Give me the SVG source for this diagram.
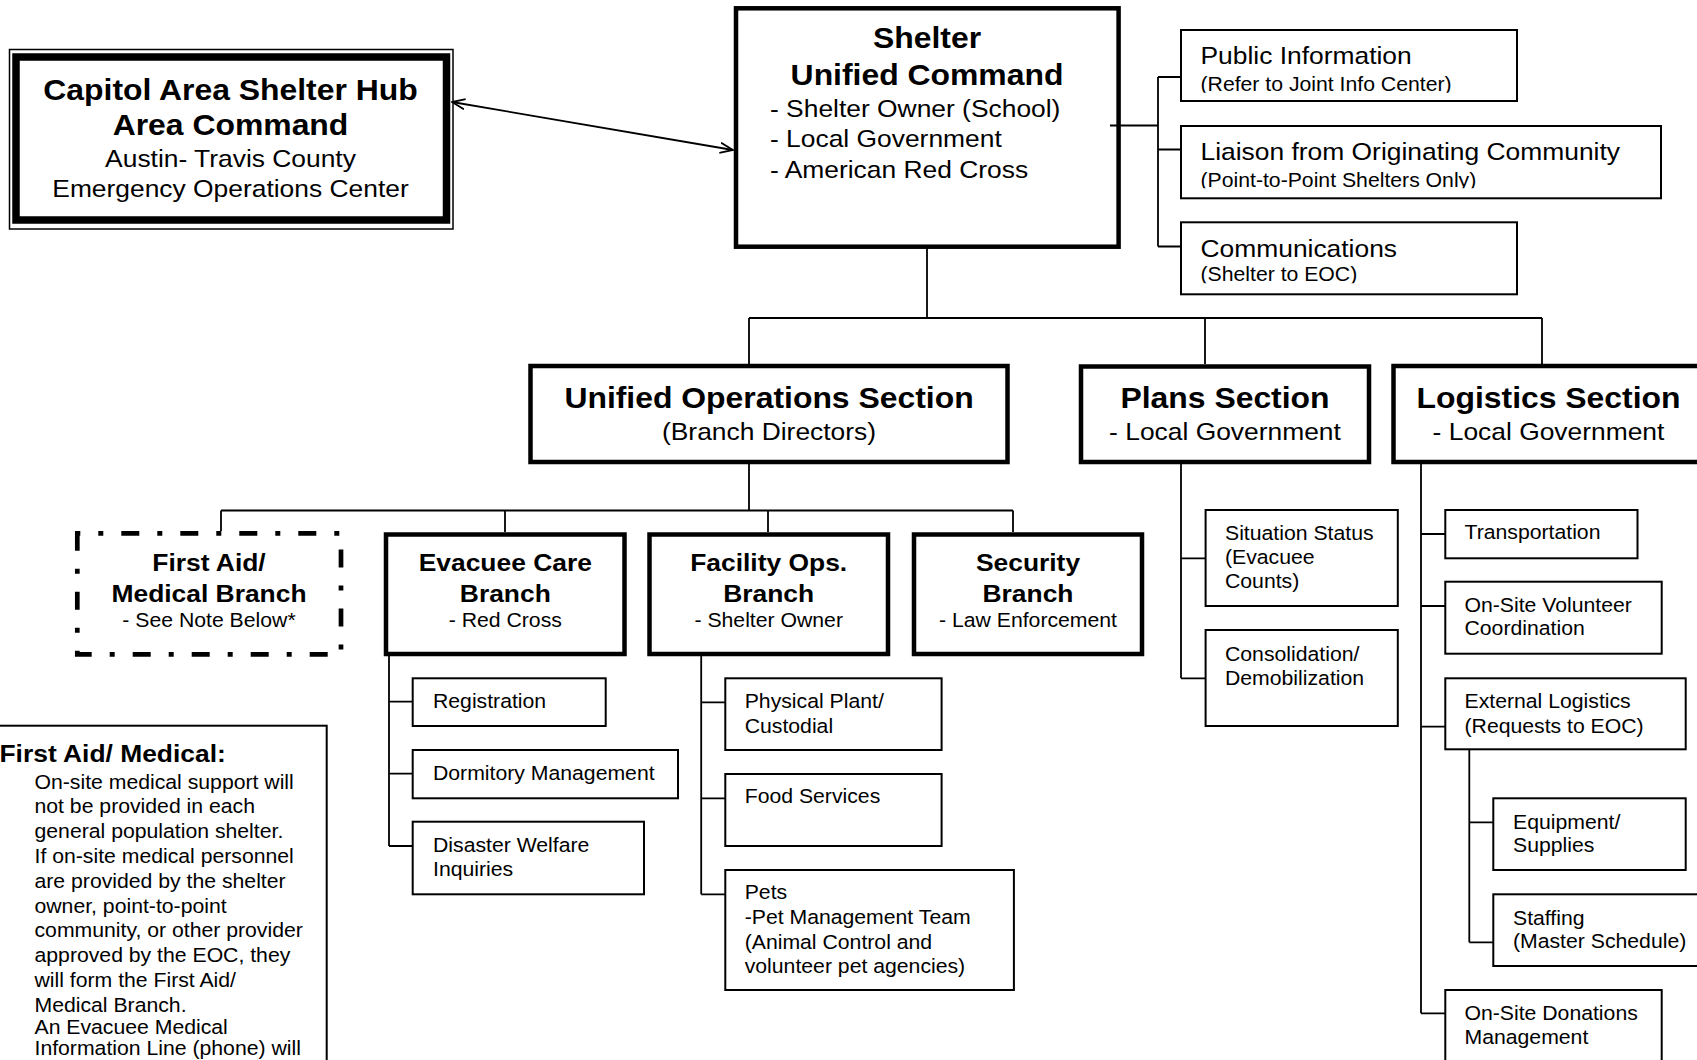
<svg xmlns="http://www.w3.org/2000/svg" width="1697" height="1060" viewBox="0 0 1697 1060">
<style>
.t{font-family:"Liberation Sans",Arial,Helvetica,sans-serif;fill:#000}
.b1{font-weight:bold;font-size:29px}
.r1{font-size:24px}
.b2{font-weight:bold;font-size:24px}
.r2{font-size:19.3px}
.thick{fill:#fff;stroke:#000;stroke-width:4.5}
.thin{fill:#fff;stroke:#000;stroke-width:2}
.ln{fill:none;stroke:#000;stroke-width:1.8}
.dash{fill:#fff;stroke:#000;stroke-width:4.7;stroke-dasharray:18 18 5 18;stroke-dashoffset:15}
</style>
<defs>
<marker id="arr" viewBox="0 0 14 12" refX="13" refY="6" markerWidth="14" markerHeight="12" markerUnits="userSpaceOnUse" orient="auto-start-reverse">
<path d="M0,0.8 L13,6 L0,11.2" fill="none" stroke="#000" stroke-width="1.8"/>
</marker>
<clipPath id="cpPub"><rect x="1182" y="31" width="334" height="61.7"/></clipPath>
<clipPath id="cpLia"><rect x="1182" y="127" width="478" height="61.3"/></clipPath>
<clipPath id="cpCom"><rect x="1182" y="223" width="334" height="60.3"/></clipPath>
</defs>
<rect width="1697" height="1060" fill="#fff"/>

<g id="capitol">
<rect x="9.5" y="49.5" width="443.5" height="179.5" fill="#fff" stroke="#000" stroke-width="1.5"/>
<rect x="16" y="57" width="430.5" height="163" fill="none" stroke="#000" stroke-width="7.5"/>
<text class="t b1" text-anchor="middle" transform="translate(230.5 0) scale(1.1 1)"><tspan x="0" y="100">Capitol Area Shelter Hub</tspan><tspan x="0" y="135">Area Command</tspan></text>
<text class="t r1" text-anchor="middle" transform="translate(230.5 0) scale(1.1 1)"><tspan x="0" y="167.5">Austin- Travis County</tspan><tspan x="0" y="197.5">Emergency Operations Center</tspan></text>
</g>

<g id="shelter">
<rect class="thick" x="736" y="8.3" width="382.6" height="238.4"/>
<text class="t b1" text-anchor="middle" transform="translate(927 0) scale(1.1 1)"><tspan x="0" y="48">Shelter</tspan><tspan x="0" y="84.7">Unified Command</tspan></text>
<text class="t r1" transform="translate(770 0) scale(1.1 1)"><tspan x="0" y="117.2">- Shelter Owner (School)</tspan><tspan x="0" y="147.4">- Local Government</tspan><tspan x="0" y="177.6">- American Red Cross</tspan></text>
</g>

<g id="public-info">
<rect class="thin" x="1181" y="30" width="336" height="71"/>
<g clip-path="url(#cpPub)">
<text class="t r1" transform="translate(1200.5 0) scale(1.1 1)"><tspan x="0" y="64">Public Information</tspan></text>
<text class="t r2" transform="translate(1200.5 0) scale(1.1 1)"><tspan x="0" y="90.8">(Refer to Joint Info Center)</tspan></text>
</g>
</g>

<g id="liaison">
<rect class="thin" x="1181" y="126" width="480" height="72.3"/>
<g clip-path="url(#cpLia)">
<text class="t r1" transform="translate(1200.5 0) scale(1.1 1)"><tspan x="0" y="160.5">Liaison from Originating Community</tspan></text>
<text class="t r2" transform="translate(1200.5 0) scale(1.1 1)"><tspan x="0" y="187.2">(Point-to-Point Shelters Only)</tspan></text>
</g>
</g>

<g id="communications">
<rect class="thin" x="1181" y="222.3" width="336" height="72"/>
<g clip-path="url(#cpCom)">
<text class="t r1" transform="translate(1200.5 0) scale(1.1 1)"><tspan x="0" y="257">Communications</tspan></text>
<text class="t r2" transform="translate(1200.5 0) scale(1.1 1)"><tspan x="0" y="280.8">(Shelter to EOC)</tspan></text>
</g>
</g>

<g id="unified-operations">
<rect class="thick" x="530.5" y="366" width="477" height="96"/>
<text class="t b1" text-anchor="middle" transform="translate(769 0) scale(1.1 1)"><tspan x="0" y="408">Unified Operations Section</tspan></text>
<text class="t r1" text-anchor="middle" transform="translate(769 0) scale(1.1 1)"><tspan x="0" y="439.7">(Branch Directors)</tspan></text>
</g>

<g id="plans">
<rect class="thick" x="1081" y="366.5" width="288" height="95.5"/>
<text class="t b1" text-anchor="middle" transform="translate(1225 0) scale(1.1 1)"><tspan x="0" y="408">Plans Section</tspan></text>
<text class="t r1" text-anchor="middle" transform="translate(1225 0) scale(1.1 1)"><tspan x="0" y="439.7">- Local Government</tspan></text>
</g>

<g id="logistics">
<rect class="thick" x="1393.5" y="366" width="320" height="96"/>
<text class="t b1" text-anchor="middle" transform="translate(1548.5 0) scale(1.1 1)"><tspan x="0" y="408">Logistics Section</tspan></text>
<text class="t r1" text-anchor="middle" transform="translate(1548.5 0) scale(1.1 1)"><tspan x="0" y="439.7">- Local Government</tspan></text>
</g>

<g id="first-aid-branch">
<rect class="dash" x="77.3" y="533.3" width="263.7" height="121"/>
<text class="t b2" text-anchor="middle" transform="translate(209 0) scale(1.1 1)"><tspan x="0" y="571">First Aid/</tspan><tspan x="0" y="602.5">Medical Branch</tspan></text>
<text class="t r2" text-anchor="middle" transform="translate(209 0) scale(1.1 1)"><tspan x="0" y="627.3">- See Note Below*</tspan></text>
</g>

<g id="evacuee-care-branch">
<rect class="thick" x="386" y="534.5" width="238.5" height="119.5"/>
<text class="t b2" text-anchor="middle" transform="translate(505.3 0) scale(1.1 1)"><tspan x="0" y="571.5">Evacuee Care</tspan><tspan x="0" y="602.5">Branch</tspan></text>
<text class="t r2" text-anchor="middle" transform="translate(505.3 0) scale(1.1 1)"><tspan x="0" y="627.5">- Red Cross</tspan></text>
</g>

<g id="facility-ops-branch">
<rect class="thick" x="649.5" y="534.5" width="238.5" height="119.5"/>
<text class="t b2" text-anchor="middle" transform="translate(768.7 0) scale(1.1 1)"><tspan x="0" y="571.5">Facility Ops.</tspan><tspan x="0" y="602.5">Branch</tspan></text>
<text class="t r2" text-anchor="middle" transform="translate(768.7 0) scale(1.1 1)"><tspan x="0" y="627.5">- Shelter Owner</tspan></text>
</g>

<g id="security-branch">
<rect class="thick" x="914" y="534.5" width="228" height="119.5"/>
<text class="t b2" text-anchor="middle" transform="translate(1028 0) scale(1.1 1)"><tspan x="0" y="571.5">Security</tspan><tspan x="0" y="602.5">Branch</tspan></text>
<text class="t r2" text-anchor="middle" transform="translate(1028 0) scale(1.1 1)"><tspan x="0" y="627.5">- Law Enforcement</tspan></text>
</g>

<g id="registration">
<rect class="thin" x="412.7" y="678.3" width="193" height="47.7"/>
<text class="t r2" transform="translate(433 0) scale(1.1 1)"><tspan x="0" y="707.7">Registration</tspan></text>
</g>
<g id="dormitory">
<rect class="thin" x="412.7" y="750" width="265.3" height="48.3"/>
<text class="t r2" transform="translate(433 0) scale(1.1 1)"><tspan x="0" y="780">Dormitory Management</tspan></text>
</g>
<g id="disaster-welfare">
<rect class="thin" x="412.7" y="821.7" width="231.3" height="72.6"/>
<text class="t r2" transform="translate(433 0) scale(1.1 1)"><tspan x="0" y="851.7">Disaster Welfare</tspan><tspan x="0" y="875.7">Inquiries</tspan></text>
</g>

<g id="physical-plant">
<rect class="thin" x="725.3" y="678.3" width="216.3" height="71.7"/>
<text class="t r2" transform="translate(744.7 0) scale(1.1 1)"><tspan x="0" y="707.7">Physical Plant/</tspan><tspan x="0" y="732.7">Custodial</tspan></text>
</g>
<g id="food-services">
<rect class="thin" x="725.3" y="774" width="216.3" height="72"/>
<text class="t r2" transform="translate(744.7 0) scale(1.1 1)"><tspan x="0" y="803.3">Food Services</tspan></text>
</g>
<g id="pets">
<rect class="thin" x="725.3" y="870" width="288.6" height="120"/>
<text class="t r2" transform="translate(744.7 0) scale(1.1 1)"><tspan x="0" y="899.3">Pets</tspan><tspan x="0" y="924.3">-Pet Management Team</tspan><tspan x="0" y="949">(Animal Control and</tspan><tspan x="0" y="973.3">volunteer pet agencies)</tspan></text>
</g>

<g id="situation-status">
<rect class="thin" x="1205.6" y="510" width="192.2" height="96"/>
<text class="t r2" transform="translate(1225 0) scale(1.1 1)"><tspan x="0" y="540">Situation Status</tspan><tspan x="0" y="564.3">(Evacuee</tspan><tspan x="0" y="588.3">Counts)</tspan></text>
</g>
<g id="consolidation">
<rect class="thin" x="1205.6" y="630" width="192.2" height="96"/>
<text class="t r2" transform="translate(1225 0) scale(1.1 1)"><tspan x="0" y="661">Consolidation/</tspan><tspan x="0" y="685">Demobilization</tspan></text>
</g>

<g id="transportation">
<rect class="thin" x="1445.3" y="510" width="192.2" height="48.3"/>
<text class="t r2" transform="translate(1464.5 0) scale(1.1 1)"><tspan x="0" y="539.5">Transportation</tspan></text>
</g>
<g id="volunteer-coordination">
<rect class="thin" x="1445.3" y="581.7" width="216.4" height="72"/>
<text class="t r2" transform="translate(1464.5 0) scale(1.1 1)"><tspan x="0" y="611.7">On-Site Volunteer</tspan><tspan x="0" y="635.5">Coordination</tspan></text>
</g>
<g id="external-logistics">
<rect class="thin" x="1445.3" y="678.3" width="240.4" height="71"/>
<text class="t r2" transform="translate(1464.5 0) scale(1.1 1)"><tspan x="0" y="708.3">External Logistics</tspan><tspan x="0" y="732.7">(Requests to EOC)</tspan></text>
</g>
<g id="equipment">
<rect class="thin" x="1493.3" y="798.3" width="192.4" height="71.7"/>
<text class="t r2" transform="translate(1513 0) scale(1.1 1)"><tspan x="0" y="829">Equipment/</tspan><tspan x="0" y="852.3">Supplies</tspan></text>
</g>
<g id="staffing">
<rect class="thin" x="1493.3" y="894.3" width="220" height="71.7"/>
<text class="t r2" transform="translate(1513 0) scale(1.1 1)"><tspan x="0" y="925">Staffing</tspan><tspan x="0" y="948.3">(Master Schedule)</tspan></text>
</g>
<g id="donations">
<rect class="thin" x="1445.3" y="990" width="216.4" height="100"/>
<text class="t r2" transform="translate(1464.5 0) scale(1.1 1)"><tspan x="0" y="1020">On-Site Donations</tspan><tspan x="0" y="1044.3">Management</tspan></text>
</g>

<g id="note">
<rect class="thin" x="-10" y="725.7" width="336.7" height="400"/>
<text class="t b2" transform="translate(-0.5 0) scale(1.1 1)"><tspan x="0" y="762.5">First Aid/ Medical:</tspan></text>
<text class="t r2" transform="translate(34.5 0) scale(1.1 1)"><tspan x="0" y="788.7">On-site medical support will</tspan><tspan x="0" y="813.5">not be provided in each</tspan><tspan x="0" y="838.3">general population shelter.</tspan><tspan x="0" y="863.1">If on-site medical personnel</tspan><tspan x="0" y="887.9">are provided by the shelter</tspan><tspan x="0" y="912.7">owner, point-to-point</tspan><tspan x="0" y="937.5">community, or other provider</tspan><tspan x="0" y="962.3">approved by the EOC, they</tspan><tspan x="0" y="987.1">will form the First Aid/</tspan><tspan x="0" y="1011.9">Medical Branch.</tspan><tspan x="0" y="1034.5">An Evacuee Medical</tspan><tspan x="0" y="1055">Information Line (phone) will</tspan></text>
</g>

<g id="connectors">
<line class="ln" x1="452" y1="102" x2="733" y2="150" marker-start="url(#arr)" marker-end="url(#arr)"/>
<path class="ln" d="M1110,125.5 H1158 M1158,77 V246.5 M1158,77 H1181 M1158,149.5 H1181 M1158,246.5 H1181"/>
<path class="ln" d="M927,248 V318 M749,318 H1542 M749,318 V364 M1205,318 V364 M1542,318 V364"/>
<path class="ln" d="M749,464 V510.5 M221,510.5 H1013 M221,510.5 V531 M505,510.5 V532 M768,510.5 V532 M1013,510.5 V532"/>
<path class="ln" d="M389,656 V846 M389,701.7 H412.7 M389,773.7 H412.7 M389,846 H412.7"/>
<path class="ln" d="M701.2,656 V894.3 M701.2,702.3 H725.3 M701.2,798.3 H725.3 M701.2,894.3 H725.3"/>
<path class="ln" d="M1181,464 V678.3 M1181,558.3 H1205.6 M1181,678.3 H1205.6"/>
<path class="ln" d="M1421,464 V1013.3 M1421,534 H1445.3 M1421,606 H1445.3 M1421,726.7 H1445.3 M1421,1013.3 H1445.3"/>
<path class="ln" d="M1469.3,749.3 V942.3 M1469.3,822.3 H1493.3 M1469.3,942.3 H1493.3"/>
</g>
</svg>
